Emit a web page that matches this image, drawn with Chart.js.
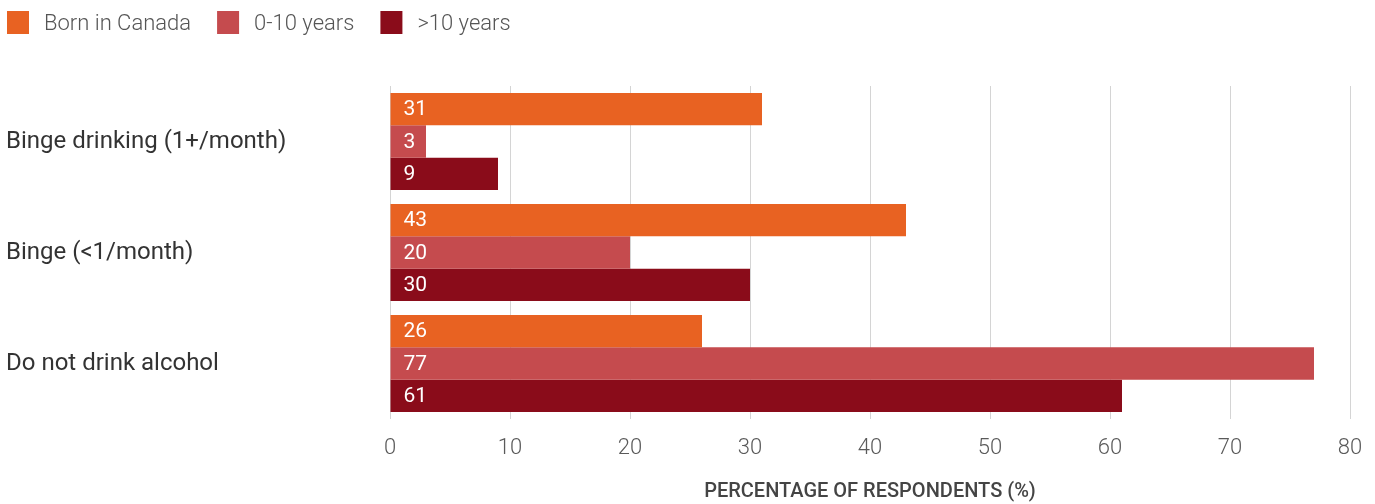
<!DOCTYPE html>
<html>
<head>
<meta charset="utf-8">
<script src="https://cdn.jsdelivr.net/npm/chart.js@4.4.0/dist/chart.umd.min.js"></script>
<style>
  html, body { margin: 0; padding: 0; background: #fff; }
  #wrap { width: 1375px; height: 504px; }
</style>
</head>
<body>
<div id="wrap"><canvas id="drinkChart"></canvas></div>
<script>
// data
const categories = ['Binge drinking (1+/month)', 'Binge (<1/month)', 'Do not drink alcohol'];
const bornInCanada = [31, 43, 26];
const zeroToTen = [3, 20, 77];
const overTen = [9, 30, 61];
const xTicks = [0, 10, 20, 30, 40, 50, 60, 70, 80];

const FONT = 'Roboto, "DejaVu Sans", sans-serif';

// white value labels at the start of each bar
const barLabels = {
    id: 'barLabels',
    afterDatasetsDraw(chart) {
        const ctx = chart.ctx;
        ctx.save();
        ctx.fillStyle = '#fff';
        ctx.font = '400 21px ' + FONT;
        ctx.textBaseline = 'middle';
        chart.data.datasets.forEach((ds, i) => {
            chart.getDatasetMeta(i).data.forEach((bar, j) => {
                ctx.fillText(ds.data[j], bar.base + 13, bar.y + 1);
            });
        });
        ctx.restore();
    }
};

// legend in the top-left corner, square swatches
const topLegend = {
    id: 'topLegend',
    afterDraw(chart) {
        const ctx = chart.ctx;
        ctx.save();
        ctx.font = '300 22px ' + FONT;
        ctx.textBaseline = 'middle';
        let x = 7;
        chart.data.datasets.forEach(ds => {
            ctx.fillStyle = ds.backgroundColor;
            ctx.fillRect(x, 11, 22, 23);
            ctx.fillStyle = '#555';
            ctx.fillText(ds.label, x + 37, 24);
            x += 37 + ctx.measureText(ds.label).width + 26;
        });
        ctx.restore();
    }
};

new Chart(document.getElementById('drinkChart'), {
    type: 'bar',
    data: {
        labels: categories,
        datasets: [
            { label: 'Born in Canada', data: bornInCanada, backgroundColor: '#E86222' },
            { label: '0-10 years', data: zeroToTen, backgroundColor: '#C54B4E' },
            { label: '>10 years', data: overTen, backgroundColor: '#8A0C1A' }
        ]
    },
    options: {
        indexAxis: 'y',
        responsive: true,
        maintainAspectRatio: false,
        animation: false,
        datasets: { bar: { categoryPercentage: 0.875, barPercentage: 1.0 } },
        layout: { padding: { left: 6, right: 25, top: 86, bottom: 0 } },
        scales: {
            x: {
                min: 0,
                max: 80,
                afterBuildTicks: s => { s.ticks = xTicks.map(v => ({ value: v })); },
                afterFit: s => { s.height = 85; s.paddingLeft = 0; s.paddingRight = 0; },
                grid: { color: '#d4d4d4', lineWidth: 1, drawTicks: false },
                border: { display: false },
                ticks: { color: '#5a5a5a', font: { family: FONT, size: 22, weight: '300' }, padding: 16 },
                title: {
                    display: true,
                    text: 'PERCENTAGE OF RESPONDENTS (%)',
                    color: '#444',
                    font: { family: FONT, size: 20, weight: '500' },
                    padding: { top: 0, bottom: 0 }
                }
            },
            y: {
                grid: { display: false },
                border: { display: false },
                afterFit: s => { s.width = 384; s.paddingTop = 0; s.paddingBottom = 0; },
                ticks: {
                    crossAlign: 'far',
                    color: '#333',
                    font: { family: FONT, size: 24, weight: '400' },
                    padding: 0
                }
            }
        },
        plugins: {
            legend: { display: false },
            tooltip: { enabled: false }
        }
    },
    plugins: [barLabels, topLegend]
});
</script>
</body>
</html>
